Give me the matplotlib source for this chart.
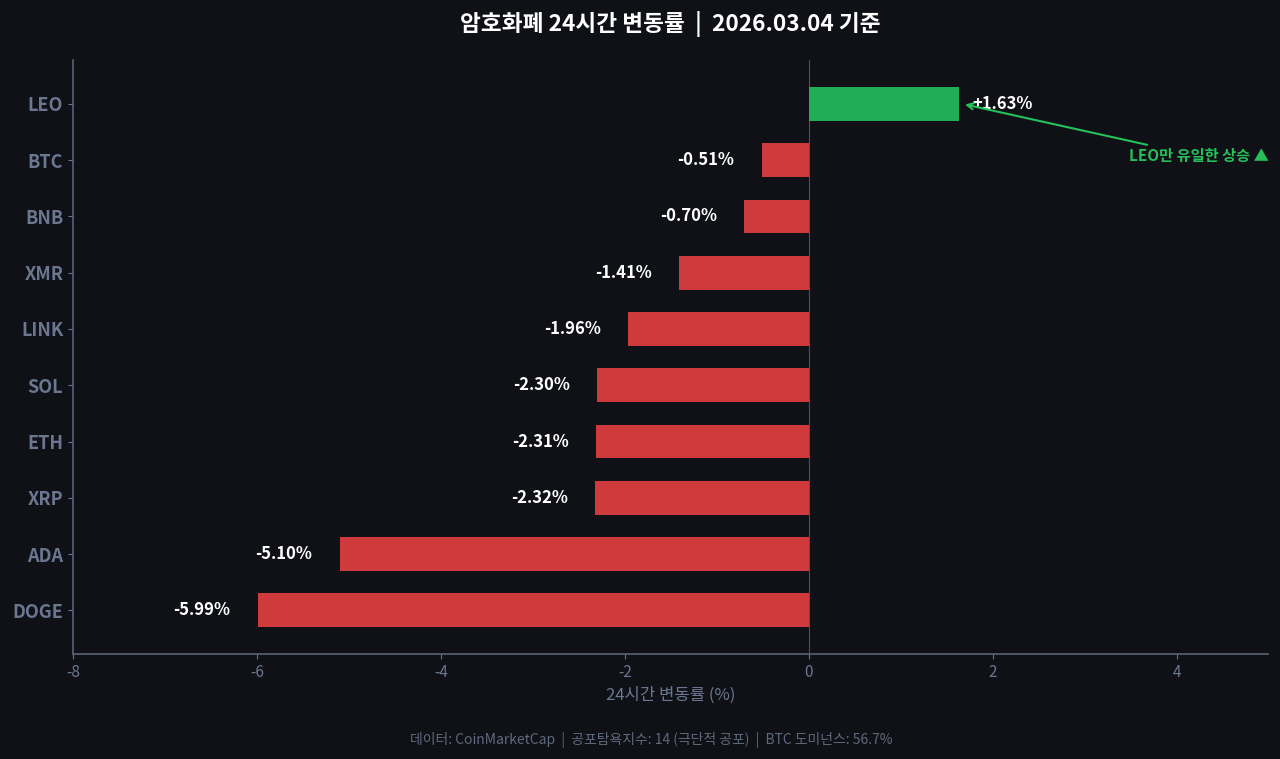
import matplotlib.pyplot as plt

plt.rcParams['font.family'] = ['Noto Sans CJK KR', 'DejaVu Sans']
plt.rcParams['axes.unicode_minus'] = False

coins = ['LEO', 'BTC', 'BNB', 'XMR', 'LINK', 'SOL', 'ETH', 'XRP', 'ADA', 'DOGE']
changes = [1.63, -0.51, -0.70, -1.41, -1.96, -2.30, -2.31, -2.32, -5.10, -5.99]

bg = '#0f1116'
red = '#cf3a3c'
green = '#20ad55'
grey = '#6b7790'

fig, ax = plt.subplots(figsize=(12.8, 7.59), dpi=100)
fig.patch.set_facecolor(bg)
ax.set_facecolor(bg)

y = list(range(len(coins)))
colors = [green if v > 0 else red for v in changes]
ax.barh(y, changes, height=0.6, color=colors, zorder=2)
ax.axvline(0, color='#4a5060', linewidth=0.8, zorder=1)

for i, v in enumerate(changes):
    if v > 0:
        ax.text(v + 0.15, i, f'+{v:.2f}%', ha='left', va='center',
                color='white', fontsize=12, fontweight='bold', zorder=3)
    else:
        ax.text(v - 0.3, i, f'{v:.2f}%', ha='right', va='center',
                color='white', fontsize=12, fontweight='bold', zorder=3)

ax.annotate('LEO만 유일한 상승 ▲', xy=(1.67, 0), xytext=(5.0, 0.93),
            ha='right', va='center', color='#25c05c', fontsize=11, fontweight='bold',
            arrowprops=dict(arrowstyle='->', color='#25c05c', lw=1.5))

ax.set_xlim(-8, 5)
ax.set_ylim(9.78, -0.78)
ax.set_yticks(y)
ax.set_yticklabels(coins, fontsize=13, fontweight='bold', color='#707d96')
ax.set_xticks([-8, -6, -4, -2, 0, 2, 4])
ax.tick_params(axis='x', colors=grey, labelsize=11)
ax.tick_params(axis='y', colors=grey)
ax.set_xlabel('24시간 변동률 (%)', color=grey, fontsize=12)

for s in ['top', 'right']:
    ax.spines[s].set_visible(False)
for s in ['left', 'bottom']:
    ax.spines[s].set_color('#5a6276')
    ax.spines[s].set_linewidth(1.2)

ax.set_title('암호화폐 24시간 변동률  |  2026.03.04 기준', color='white',
             fontsize=16.3, fontweight='bold', pad=21)
fig.text(651 / 1280, 0.025, '데이터: CoinMarketCap  |  공포탐욕지수: 14 (극단적 공포)  |  BTC 도미넌스: 56.7%',
         ha='center', va='center', color='#5f687c', fontsize=10)

fig.subplots_adjust(left=0.057, right=0.991, top=0.921, bottom=0.138)
fig.savefig('out.png', dpi=100, facecolor=bg)
